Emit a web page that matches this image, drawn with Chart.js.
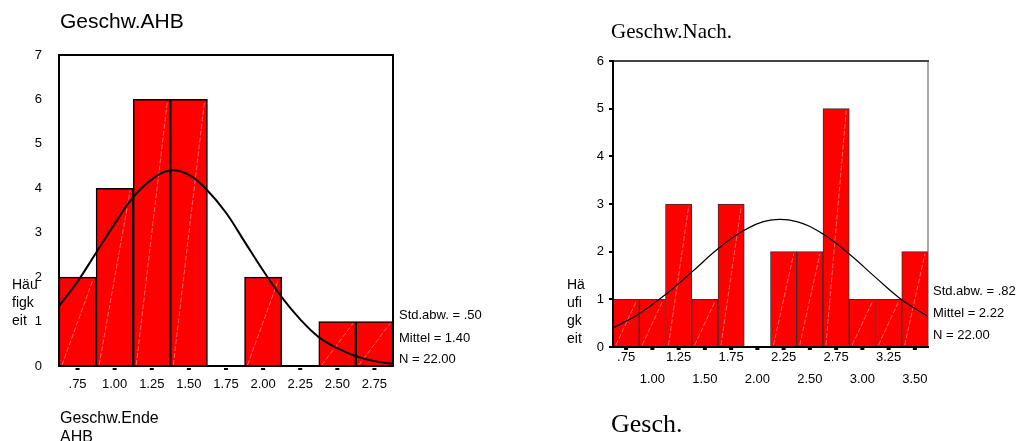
<!DOCTYPE html>
<html>
<head>
<meta charset="utf-8">
<script src="https://cdn.jsdelivr.net/npm/chart.js@4.4.1/dist/chart.umd.min.js"></script>
<style>
  body { margin: 0; width: 1022px; height: 441px; background: #fff; position: relative; overflow: hidden;
         font-family: "Liberation Sans", Arial, sans-serif; color: #000; }
  canvas { position: absolute; top: 0; }
  .t { position: absolute; white-space: nowrap; line-height: 1; }
  .serif { font-family: "Liberation Serif", "Times New Roman", serif; }
</style>
</head>
<body>
<canvas id="left" width="400" height="441" style="left:0"></canvas>
<canvas id="right" width="400" height="441" style="left:540px"></canvas>

<div class="t" style="left:60px;top:10px;font-size:21px">Geschw.AHB</div>
<div class="t" style="left:12px;top:275px;font-size:14px;line-height:18px">Häu<br>figk<br>eit</div>
<div class="t" style="left:399px;top:307.6px;font-size:13px">Std.abw. = .50</div>
<div class="t" style="left:399px;top:331.3px;font-size:13px">Mittel = 1.40</div>
<div class="t" style="left:399px;top:351.9px;font-size:13px">N = 22.00</div>
<div class="t" style="left:60px;top:410px;font-size:16px">Geschw.Ende</div>
<div class="t" style="left:60px;top:429px;font-size:16px">AHB</div>

<div class="t serif" style="left:611px;top:21px;font-size:21px">Geschw.Nach.</div>
<div class="t" style="left:567px;top:274.5px;font-size:14px;line-height:18.1px">Hä<br>ufi<br>gk<br>eit</div>
<div class="t" style="left:933px;top:283.6px;font-size:13px">Std.abw. = .82</div>
<div class="t" style="left:933px;top:306.3px;font-size:13px">Mittel = 2.22</div>
<div class="t" style="left:933px;top:327.9px;font-size:13px">N = 22.00</div>
<div class="t serif" style="left:611px;top:410.6px;font-size:26px">Gesch.</div>

<script>
// Geschw. Ende AHB
const leftTickLabels = [".75", "1.00", "1.25", "1.50", "1.75", "2.00", "2.25", "2.50", "2.75"];
const leftBinCenters = [0.75, 1.00, 1.25, 1.50, 1.75, 2.00, 2.25, 2.50, 2.75];
const leftCounts = [2, 4, 6, 6, 0, 2, 0, 1, 1];
const leftCurveX = [0.625, 0.75, 0.875, 1.0, 1.125, 1.25, 1.375, 1.5, 1.625, 1.75, 1.875, 2.0, 2.125, 2.25, 2.375, 2.5, 2.625, 2.75, 2.875];
const leftCurveY = [1.35, 1.9, 2.55, 3.2, 3.8, 4.2, 4.4, 4.3, 3.95, 3.45, 2.8, 2.15, 1.55, 1.05, 0.65, 0.4, 0.22, 0.11, 0.05];

// Geschw. Nach.
const rightTickLabels = [".75", "1.00", "1.25", "1.50", "1.75", "2.00", "2.25", "2.50", "2.75", "3.00", "3.25", "3.50"];
const rightBinCenters = [0.75, 1.00, 1.25, 1.50, 1.75, 2.00, 2.25, 2.50, 2.75, 3.00, 3.25, 3.50];
const rightCounts = [1, 1, 3, 1, 3, 0, 2, 2, 5, 1, 1, 2];
const rightCurveX = [0.625, 0.875, 1.125, 1.375, 1.625, 1.875, 2.125, 2.375, 2.625, 2.875, 3.125, 3.375, 3.625];
const rightCurveY = [0.4, 0.7, 1.1, 1.57, 2.06, 2.45, 2.66, 2.63, 2.37, 1.95, 1.46, 0.99, 0.64];

Chart.defaults.font.family = "'Liberation Sans', Arial, sans-serif";
Chart.defaults.color = "#000";

// faint diagonal lines inside the bars (SPSS look)
const barHatch = {
  id: "barHatch",
  afterDatasetDraw(chart, args) {
    if (args.index !== 1) return;
    const ctx = chart.ctx;
    ctx.save();
    ctx.strokeStyle = "rgba(255,175,175,0.85)";
    ctx.lineWidth = 0.7;
    ctx.setLineDash([5, 2]);
    args.meta.data.forEach(bar => {
      const { x, y, base, width } = bar.getProps(["x", "y", "base", "width"], true);
      if (base - y < 2) return;
      ctx.beginPath();
      ctx.moveTo(x - width / 2 + 3, base - 1);
      ctx.lineTo(x + width / 2 - 3, y + 2);
      ctx.stroke();
    });
    ctx.restore();
  }
};

// frame round the plot and the little dash ticks under the x axis
const frame = {
  id: "frame",
  afterDraw(chart, args, opts) {
    const { ctx, chartArea: a } = chart;
    const xs = chart.scales.x;
    ctx.save();
    ctx.lineCap = "square";
    const line = (x1, y1, x2, y2, color, w) => {
      ctx.strokeStyle = color;
      ctx.lineWidth = w;
      ctx.beginPath();
      ctx.moveTo(x1, y1);
      ctx.lineTo(x2, y2);
      ctx.stroke();
    };
    line(a.left, a.top, a.right, a.top, opts.top, 2);
    line(a.right, a.top, a.right, a.bottom, opts.right, opts.rightWidth);
    line(a.left, a.bottom, a.right, a.bottom, "#000", 2);
    line(a.left, a.top, a.left, a.bottom, "#000", 2);
    ctx.fillStyle = "#000";
    xs.ticks.forEach(t => {
      const px = xs.getPixelForValue(t.value);
      ctx.fillRect(px - 2, a.bottom + opts.dashGap, 4, 2);
    });
    ctx.restore();
  }
};

const makeChart = (id, cfg) => new Chart(document.getElementById(id), {
  type: "bar",
  data: {
    datasets: [
      {
        type: "line",
        data: cfg.curveX.map((x, i) => ({ x, y: cfg.curveY[i] })),
        borderColor: "#000",
        borderWidth: cfg.curveWidth,
        pointRadius: 0,
        tension: 0.4,
        fill: false
      },
      {
        type: "bar",
        data: cfg.centers.map((x, i) => ({ x, y: cfg.counts[i] })),
        backgroundColor: "#ff0000",
        borderColor: cfg.barBorder,
        borderWidth: cfg.barBorderWidth,
        barPercentage: 1,
        categoryPercentage: 1
      }
    ]
  },
  options: {
    responsive: false,
    animation: false,
    events: [],
    layout: { padding: cfg.padding },
    plugins: {
      legend: { display: false },
      tooltip: { enabled: false },
      frame: cfg.frame
    },
    scales: {
      x: {
        type: "linear",
        offset: false,
        min: cfg.xMin,
        max: cfg.xMax,
        grid: { display: false },
        border: { display: false },
        afterBuildTicks: s => { s.ticks = cfg.centers.map(v => ({ value: v })); },
        afterFit: s => { s.height = cfg.xHeight; },
        ticks: {
          autoSkip: false,
          maxRotation: 0,
          padding: cfg.xPad,
          font: { size: 13, lineHeight: cfg.xLine },
          callback: cfg.xLabel
        }
      },
      y: {
        min: 0,
        max: cfg.yMax,
        grid: cfg.yGrid,
        border: { display: false },
        afterFit: s => { s.width = cfg.yWidth; },
        ticks: { stepSize: 1, padding: cfg.yPad, font: { size: 13 } }
      }
    }
  },
  plugins: [barHatch, frame]
});

makeChart("left", {
  centers: leftBinCenters, counts: leftCounts,
  curveX: leftCurveX, curveY: leftCurveY, curveWidth: 2,
  barBorder: "#000", barBorderWidth: 1.5,
  xMin: 0.625, xMax: 2.875, yMax: 7,
  padding: { top: 55, right: 7, left: 0, bottom: 0 },
  xHeight: 75, yWidth: 59, xPad: 2.5, xLine: 1.2, yPad: 9,
  yGrid: { display: false },
  xLabel: (v, i) => leftTickLabels[i],
  frame: { top: "#000", right: "#000", rightWidth: 2, dashGap: 2 }
});

makeChart("right", {
  centers: rightBinCenters, counts: rightCounts,
  curveX: rightCurveX, curveY: rightCurveY, curveWidth: 1.2,
  barBorder: "#333", barBorderWidth: 1,
  xMin: 0.625, xMax: 3.625, yMax: 6,
  padding: { top: 61, right: 12, left: 0, bottom: 0 },
  xHeight: 94, yWidth: 73, xPad: -8, xLine: "21.6px", yPad: 5,
  yGrid: { display: true, drawOnChartArea: false, drawTicks: true, tickLength: 4, color: "#000", lineWidth: 2 },
  xLabel: (v, i) => (i % 2 === 0 ? rightTickLabels[i] : ["", rightTickLabels[i]]),
  frame: { top: "#444", right: "#555", rightWidth: 1, dashGap: 1 }
});
</script>
</body>
</html>
